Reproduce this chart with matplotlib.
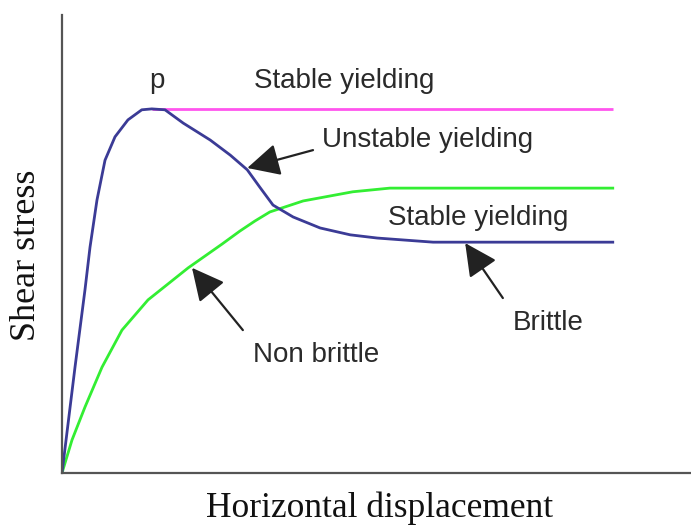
import matplotlib
matplotlib.use("Agg")
import matplotlib.pyplot as plt

# Brittle curve (rises to peak p, then softens to residual)
brittle_x = [0, 2.07, 3.66, 4.46, 5.57, 6.85, 8.44, 10.5, 12.7, 14.3, 16.4, 19.3, 23.6, 26.8,
             29.5, 31.5, 33.6, 36.8, 41.1, 45.9, 50.2, 59.1, 87.7]
brittle_y = [0, 23.1, 40.0, 49.3, 59.6, 68.3, 73.4, 77.1, 79.3, 79.5, 79.3, 76.4, 72.7, 69.4,
             66.2, 62.4, 58.5, 55.9, 53.5, 52.0, 51.3, 50.4, 50.4]
# Non brittle curve
nonbrittle_x = [0, 1.59, 3.66, 6.37, 9.55, 13.7, 20.1, 25.5, 28.3, 30.7, 33.1, 38.4, 46.3, 52.2, 87.7]
nonbrittle_y = [0, 7.2, 14.4, 23.1, 31.2, 37.8, 44.8, 50.0, 52.8, 55.0, 57.0, 59.4, 61.4, 62.2, 62.2]
# Stable yielding at peak
stable_x = [14.3, 87.7]
stable_y = [79.5, 79.5]

labels = ["p", "Stable yielding", "Unstable yielding", "Stable yielding", "Brittle", "Non brittle"]
label_pos = [(15.1, 84.1, "center"), (30.6, 84.1, "left"), (41.4, 71.2, "left"),
             (51.9, 54.1, "left"), (71.7, 31.2, "left"), (30.4, 24.2, "left")]
arrows = [((39.97, 70.5), (29.5, 66.6)), ((70.2, 38.2), (64.2, 50.2)), ((28.8, 31.2), (20.7, 44.8))]

fig = plt.figure(figsize=(6.91, 5.25), dpi=100)
ax = fig.add_axes([62/691, 52/525, 628/691, 458/525])
ax.set_xlim(0, 100)
ax.set_ylim(0, 100)
for s in ["top", "right"]:
    ax.spines[s].set_visible(False)
for s in ["left", "bottom"]:
    ax.spines[s].set_color("#555555")
    ax.spines[s].set_linewidth(1.6)
ax.set_xticks([])
ax.set_yticks([])

ax.plot(stable_x, stable_y, color="#ff55ee", lw=2.0, solid_capstyle="butt")
ax.plot(nonbrittle_x, nonbrittle_y, color="#33ee33", lw=2.0, solid_joinstyle="round")
ax.plot(brittle_x, brittle_y, color="#3b3b96", lw=2.0, solid_joinstyle="round")

for t, (x, y, ha) in zip(labels, label_pos):
    ax.text(x, y, t, ha=ha, va="baseline", fontsize=20, family="Liberation Sans", color="#2a2a2a")

for (tail, tip) in arrows:
    ax.annotate("", xy=tip, xytext=tail,
                arrowprops=dict(arrowstyle="-|>,head_length=1.0,head_width=0.5",
                                mutation_scale=20, color="#222222", lw=1.6,
                                shrinkA=0, shrinkB=0))

fig.text(380/691, 1 - 517/525, "Horizontal displacement", ha="center", va="baseline",
         fontsize=25.5, family="Liberation Serif", color="#111111")
fig.text(27/691, 1 - 255/525, "Shear stress", ha="center", va="center", rotation=90,
         fontsize=26, family="Liberation Serif", color="#111111")

fig.savefig("out.png", dpi=100)
